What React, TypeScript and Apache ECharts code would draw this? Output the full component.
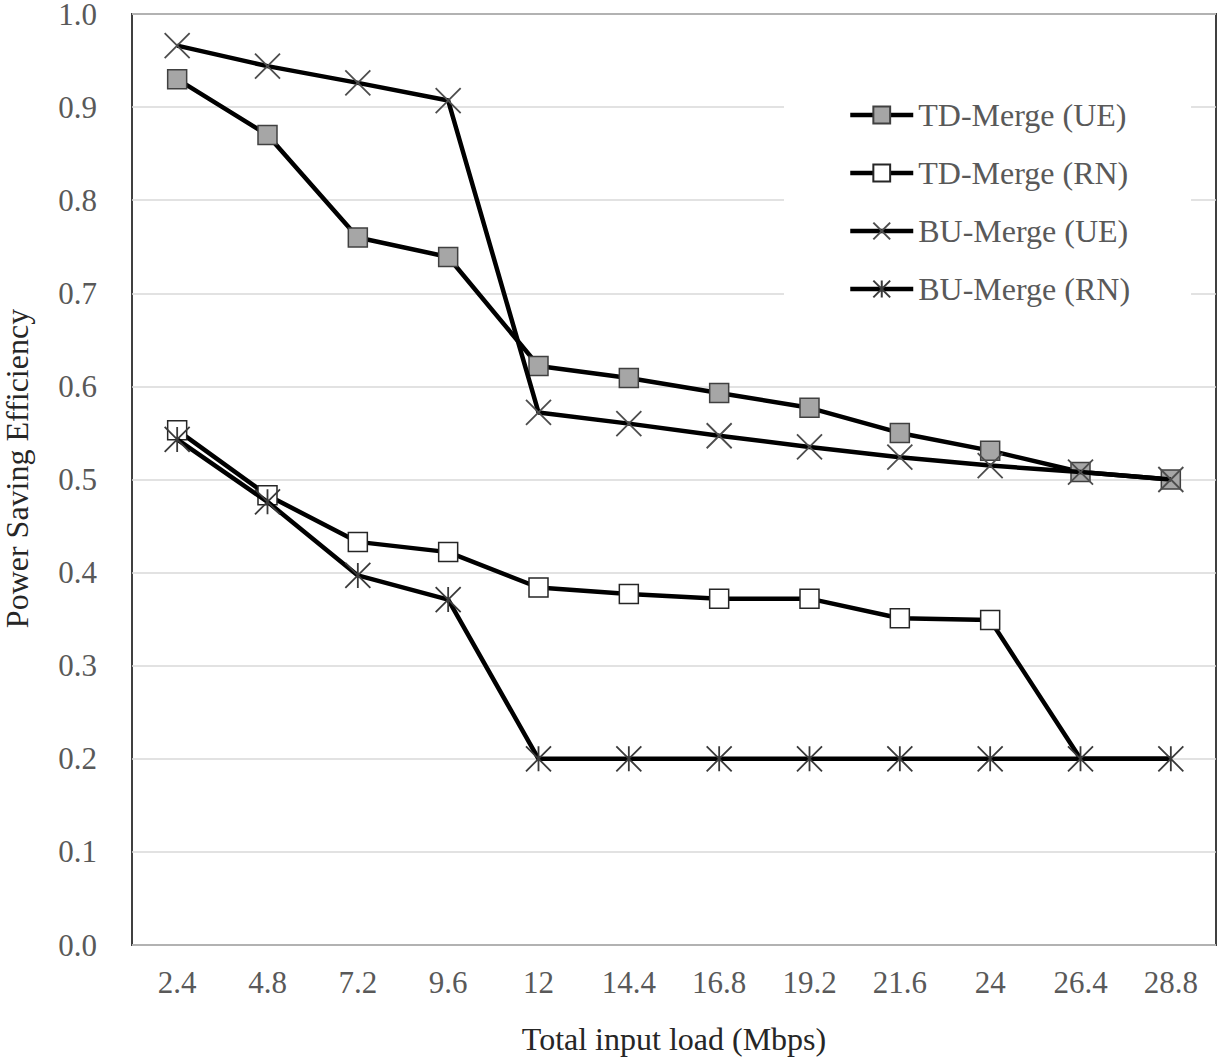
import React, { useEffect, useRef } from "react";
import * as echarts from "echarts";

const categories = ["2.4", "4.8", "7.2", "9.6", "12", "14.4", "16.8", "19.2", "21.6", "24", "26.4", "28.8"];
const yTicks = [0, 0.1, 0.2, 0.3, 0.4, 0.5, 0.6, 0.7, 0.8, 0.9, 1.0];

const tdMergeUE = [0.93, 0.87, 0.76, 0.739, 0.622, 0.609, 0.593, 0.577, 0.55, 0.531, 0.508, 0.5];
const tdMergeRN = [0.553, 0.483, 0.433, 0.422, 0.384, 0.377, 0.372, 0.372, 0.351, 0.349, 0.2, 0.2];
const tdMergeRNMarkers = [true, true, true, true, true, true, true, true, true, true, false, false];
const buMergeUE = [0.966, 0.944, 0.926, 0.907, 0.572, 0.56, 0.547, 0.535, 0.524, 0.515, 0.508, 0.5];
const buMergeRN = [0.543, 0.476, 0.397, 0.371, 0.2, 0.2, 0.2, 0.2, 0.2, 0.2, 0.2, 0.2];

const seriesNames = ["TD-Merge (UE)", "TD-Merge (RN)", "BU-Merge (UE)", "BU-Merge (RN)"];

const FONT = "'Liberation Serif', 'Times New Roman', serif";
const CROSS = "path://M0,0L24,24M24,0L0,24";
const ASTER = "path://M0,0L24,24M24,0L0,24M12,0L12,24";

export default function App() {
  const ref = useRef<HTMLDivElement>(null);
  useEffect(() => {
    if (!ref.current) return;
    const chart = echarts.init(ref.current, null, { renderer: "svg" });
    const lineStyle = { color: "#000", width: 4.5 };
    chart.setOption({
      animation: false,
      backgroundColor: "#fff",
      textStyle: { fontFamily: FONT },
      grid: {
        left: 132,
        top: 14,
        right: 3,
        bottom: 116,
        show: true,
        borderColor: "#404040",
        borderWidth: 2,
        backgroundColor: "transparent",
        containLabel: false,
        outerBoundsMode: "none",
      },
      legend: {
        orient: "vertical",
        left: 784,
        top: 75,
        padding: [24, 61, 15, 64],
        backgroundColor: "#fff",
        itemWidth: 63,
        itemHeight: 21,
        itemGap: 26,
        data: seriesNames,
        lineStyle: { width: 4.5, color: "#000" },
        textStyle: { fontFamily: FONT, fontSize: 32, color: "#595959", lineHeight: 32 },
      },
      xAxis: {
        type: "category",
        data: categories,
        boundaryGap: true,
        axisLine: { show: false },
        axisTick: { show: false },
        splitLine: { show: false },
        axisLabel: { fontFamily: FONT, fontSize: 31, color: "#595959", margin: 22, interval: 0 },
        name: "Total input load (Mbps)",
        nameLocation: "middle",
        nameGap: 78,
        nameTextStyle: { fontFamily: FONT, fontSize: 32, color: "#262626" },
      },
      yAxis: {
        type: "value",
        min: yTicks[0],
        max: yTicks[yTicks.length - 1],
        interval: 0.1,
        axisLine: { show: false },
        axisTick: { show: false },
        splitLine: { show: true, lineStyle: { color: "#d9d9d9", width: 1.5 } },
        axisLabel: {
          fontFamily: FONT,
          fontSize: 31,
          lineHeight: 26,
          color: "#595959",
          margin: 35,
          formatter: (v: number) => v.toFixed(1),
        },
        name: "Power Saving Efficiency",
        nameLocation: "middle",
        nameGap: 99,
        nameTextStyle: { fontFamily: FONT, fontSize: 32, color: "#262626", padding: [0, 0, 0, 22] },
      },
      series: [
        {
          name: seriesNames[0],
          type: "line",
          data: tdMergeUE,
          symbol: "rect",
          symbolSize: 19,
          lineStyle,
          itemStyle: { color: "#a6a6a6", borderColor: "#404040", borderWidth: 1.5 },
          z: 3,
        },
        {
          name: seriesNames[1],
          type: "line",
          data: tdMergeRN.map((v, i) => (tdMergeRNMarkers[i] ? v : { value: v, symbol: "none" })),
          symbol: "rect",
          symbolSize: 19,
          lineStyle,
          itemStyle: { color: "#ffffff", borderColor: "#262626", borderWidth: 1.5 },
          z: 3,
        },
        {
          name: seriesNames[2],
          type: "line",
          data: buMergeUE,
          symbol: CROSS,
          symbolSize: 25,
          lineStyle,
          itemStyle: { color: "rgba(0,0,0,0)", borderColor: "#4d4d4d", borderWidth: 1.8 },
          z: 4,
        },
        {
          name: seriesNames[3],
          type: "line",
          data: buMergeRN,
          symbol: ASTER,
          symbolSize: 25,
          lineStyle,
          itemStyle: { color: "rgba(0,0,0,0)", borderColor: "#3a3a3a", borderWidth: 1.8 },
          z: 4,
        },
      ],
    });
    return () => chart.dispose();
  }, []);
  return (
    <div
      ref={ref}
      style={{ position: "fixed", left: 0, top: 0, width: 1219, height: 1061, background: "#fff" }}
    />
  );
}
